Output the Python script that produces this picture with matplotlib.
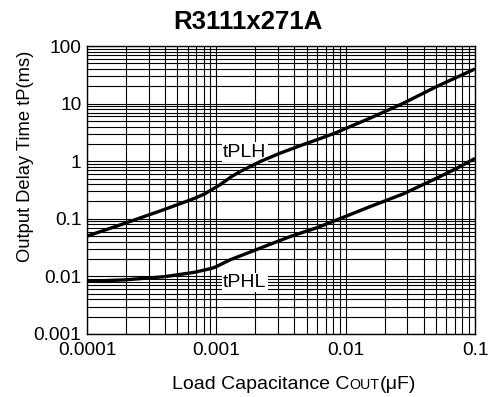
import matplotlib
matplotlib.use("Agg")
import matplotlib.pyplot as plt
from matplotlib.ticker import LogLocator, FixedLocator, FixedFormatter, NullFormatter
from matplotlib.offsetbox import TextArea, HPacker, AnchoredOffsetbox

plt.rcParams['font.family'] = ['Liberation Sans', 'DejaVu Sans']

title = "R3111x271A"
ylabel = "Output Delay Time tP(ms)"

# tPLH curve
plh_x = [0.0001, 0.000196, 0.000399, 0.00068, 0.00081, 0.00106, 0.00131, 0.00152, 0.00217,
         0.00309, 0.00442, 0.00612, 0.0085, 0.01, 0.01535, 0.0278, 0.0503, 0.1]
plh_y = [0.05, 0.0835, 0.146, 0.227, 0.27, 0.386, 0.54, 0.657, 0.98,
         1.37, 1.85, 2.4, 3.15, 3.7, 5.56, 10.1, 19.7, 40]
# tPHL curve
phl_x = [0.0001, 0.000196, 0.000399, 0.00068, 0.00092, 0.001, 0.00127, 0.00217, 0.0037,
         0.00612, 0.0085, 0.01535, 0.0278, 0.0503, 0.072, 0.1]
phl_y = [0.0082, 0.0087, 0.0099, 0.0118, 0.0138, 0.0148, 0.0193, 0.0308, 0.0489,
         0.0712, 0.0953, 0.162, 0.27, 0.505, 0.75, 1.12]

xticks = [0.0001, 0.001, 0.01, 0.1]
xticklabels = ["0.0001", "0.001", "0.01", "0.1"]
yticks = [0.001, 0.01, 0.1, 1, 10, 100]
yticklabels = ["0.001", "0.01", "0.1", "1", "10", "100"]

fig = plt.figure(figsize=(4.9, 3.97), dpi=100)
ax = fig.add_axes([0.1776, 0.1587, 0.7918, 0.7254])
ax.set_xscale('log')
ax.set_yscale('log')
ax.set_xlim(0.0001, 0.1)
ax.set_ylim(0.001, 100)

ax.plot(plh_x, plh_y, color='black', lw=2.4, solid_capstyle='butt',
        solid_joinstyle='round', zorder=5)
ax.plot(phl_x, phl_y, color='black', lw=2.4, solid_capstyle='butt',
        solid_joinstyle='round', zorder=5)

ax.xaxis.set_major_locator(FixedLocator(xticks))
ax.xaxis.set_major_formatter(FixedFormatter(xticklabels))
ax.yaxis.set_major_locator(FixedLocator(yticks))
ax.yaxis.set_major_formatter(FixedFormatter(yticklabels))
ax.xaxis.set_minor_locator(LogLocator(base=10, subs=range(2, 10), numticks=20))
ax.yaxis.set_minor_locator(LogLocator(base=10, subs=range(2, 10), numticks=20))
ax.xaxis.set_minor_formatter(NullFormatter())
ax.yaxis.set_minor_formatter(NullFormatter())
ax.tick_params(which='both', length=0, labelsize=13.8, colors='black')
ax.tick_params(axis='x', pad=6)
ax.tick_params(axis='y', pad=4)
ax.grid(True, which='both', color='black', lw=0.8)
for s in ax.spines.values():
    s.set_color('black')
    s.set_linewidth(1.0)

ax.text(0.00113, 1.2, "tPLH", fontsize=14, ha='left', va='baseline', zorder=4,
        bbox=dict(facecolor='white', edgecolor='none', pad=1.0))
ax.text(0.00113, 0.00655, "tPHL", fontsize=14, ha='left', va='baseline', zorder=4,
        bbox=dict(facecolor='white', edgecolor='none', pad=1.0))

fig.text(0.505, 0.945, title, fontsize=18.5, fontweight='bold', ha='center', va='center')
ax.set_ylabel(ylabel, fontsize=13.2)
ax.yaxis.set_label_coords(-0.137, 0.616)

# x label with small caps "OUT"
parts = [TextArea("Load Capacitance C", textprops=dict(fontsize=14)),
         TextArea("OUT", textprops=dict(fontsize=10.3)),
         TextArea("(μF)", textprops=dict(fontsize=14))]
pack = HPacker(children=parts, align="baseline", pad=0, sep=0)
ab = AnchoredOffsetbox(loc='center', child=pack, frameon=False,
                       bbox_to_anchor=(0.533, -0.175), bbox_transform=ax.transAxes,
                       pad=0, borderpad=0)
ax.add_artist(ab)

fig.savefig("out.png", dpi=100)
